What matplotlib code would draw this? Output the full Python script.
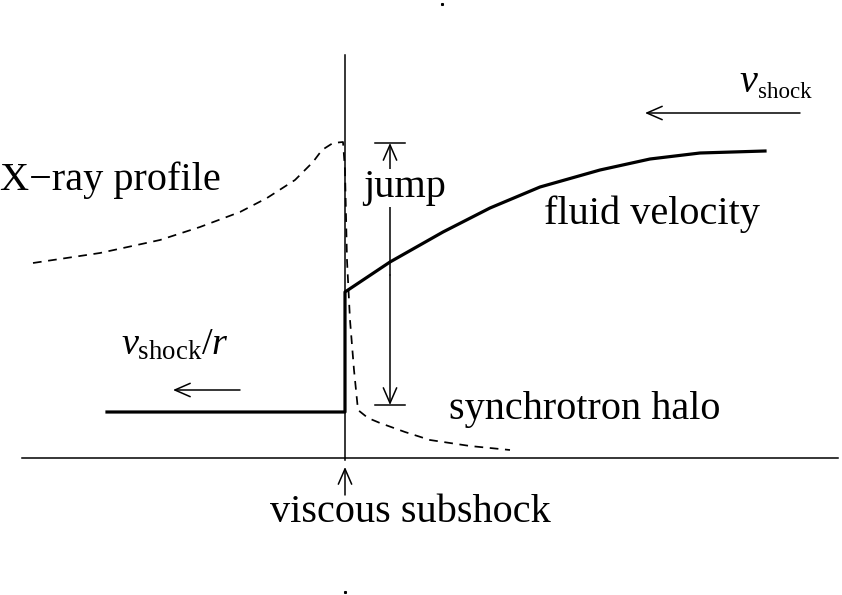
import matplotlib
matplotlib.use("Agg")
import matplotlib.pyplot as plt
import numpy as np

plt.rcParams['font.family'] = ['Liberation Serif', 'DejaVu Serif']
plt.rcParams['mathtext.fontset'] = 'custom'
plt.rcParams['mathtext.rm'] = 'Liberation Serif'
plt.rcParams['mathtext.it'] = 'Liberation Serif:italic'

# ---- schematic data (page coordinates, y downward) ----
shock_x = 345
axis_y = 458
axis_x = [22, 838]
shock_line_y = [55, 460]

# fluid velocity (thick solid)
fluid_x = [107, 345, 345, 390, 443, 490, 540, 600, 650, 700, 765]
fluid_y = [412, 412, 292, 262, 232, 208, 187, 170, 159, 153, 151]

# X-ray profile + synchrotron halo (dashed)
xray_x = [33, 100, 160, 200, 240, 267, 295, 313, 322, 333, 343, 345, 347, 350, 354, 358, 368, 380, 405, 430, 470, 510]
xray_y = [263, 253, 240, 227, 212, 198, 180, 162, 150, 143, 142, 170, 260, 320, 370, 410, 418, 423, 432, 440, 446, 450]

# jump marker
jump_x = 390
jump_y = [143, 405]
jump_bar_x = [375, 405]

# arrows: (x_start, y_start, x_end, y_end)
vshock_arrow = [800, 113, 645, 113]
vdown_arrow = [240, 390, 173, 390]
subshock_arrow = [345, 495, 345, 467]

fig = plt.figure(figsize=(8.42, 5.95), dpi=100)
ax = fig.add_axes([0, 0, 1, 1])
ax.set_xlim(0, 842)
ax.set_ylim(595, 0)
ax.axis('off')

thin = 1.1
ax.plot(axis_x, [axis_y, axis_y], color='black', lw=thin)
ax.plot([shock_x, shock_x], shock_line_y, color='black', lw=thin)
ax.plot(fluid_x, fluid_y, color='black', lw=2.3, solid_joinstyle='round')
ax.plot(xray_x, xray_y, color='black', lw=1.25, dashes=(5.0, 3.8))

# jump
for yb in jump_y:
    ax.plot(jump_bar_x, [yb, yb], color='black', lw=thin)
ap = dict(arrowstyle='->, head_length=0.55, head_width=0.24', lw=thin, color='black',
          mutation_scale=20, shrinkA=0, shrinkB=0)
ax.annotate('', xy=(jump_x, jump_y[0]), xytext=(jump_x, 275), arrowprops=ap)
ax.annotate('', xy=(jump_x, jump_y[1]), xytext=(jump_x, 275), arrowprops=ap)

ax.annotate('', xy=(vshock_arrow[2], vshock_arrow[3]), xytext=(vshock_arrow[0], vshock_arrow[1]), arrowprops=ap)
ax.annotate('', xy=(vdown_arrow[2], vdown_arrow[3]), xytext=(vdown_arrow[0], vdown_arrow[1]), arrowprops=ap)
ax.annotate('', xy=(subshock_arrow[2], subshock_arrow[3]), xytext=(subshock_arrow[0], subshock_arrow[1]), arrowprops=ap)

fs = 29
ax.text(0, 180, 'X\u2212ray profile', fontsize=fs, ha='left', va='center')
ax.text(405, 188, 'jump', fontsize=fs, ha='center', va='center',
        bbox=dict(facecolor='white', edgecolor='none', pad=0.5))
ax.text(652, 214, 'fluid velocity', fontsize=fs, ha='center', va='center')
ax.text(585, 410, 'synchrotron halo', fontsize=fs, ha='center', va='center')
ax.text(410, 513, 'viscous subshock', fontsize=fs, ha='center', va='center')

# v_shock (upper right)
ax.text(739, 92, 'v', fontsize=fs, style='italic', ha='left', va='baseline')
ax.text(758, 98, 'shock', fontsize=16.5, ha='left', va='baseline')
# v_shock / r (lower left)
ax.text(121, 355, r'$v_{\mathrm{shock}}/r$', fontsize=27.5, ha='left', va='baseline')

# tiny registration marks
ax.plot([442], [4], marker='s', ms=1.2, color='black')
ax.plot([345], [592], marker='s', ms=1.2, color='black')

fig.savefig('out.png', dpi=100)
